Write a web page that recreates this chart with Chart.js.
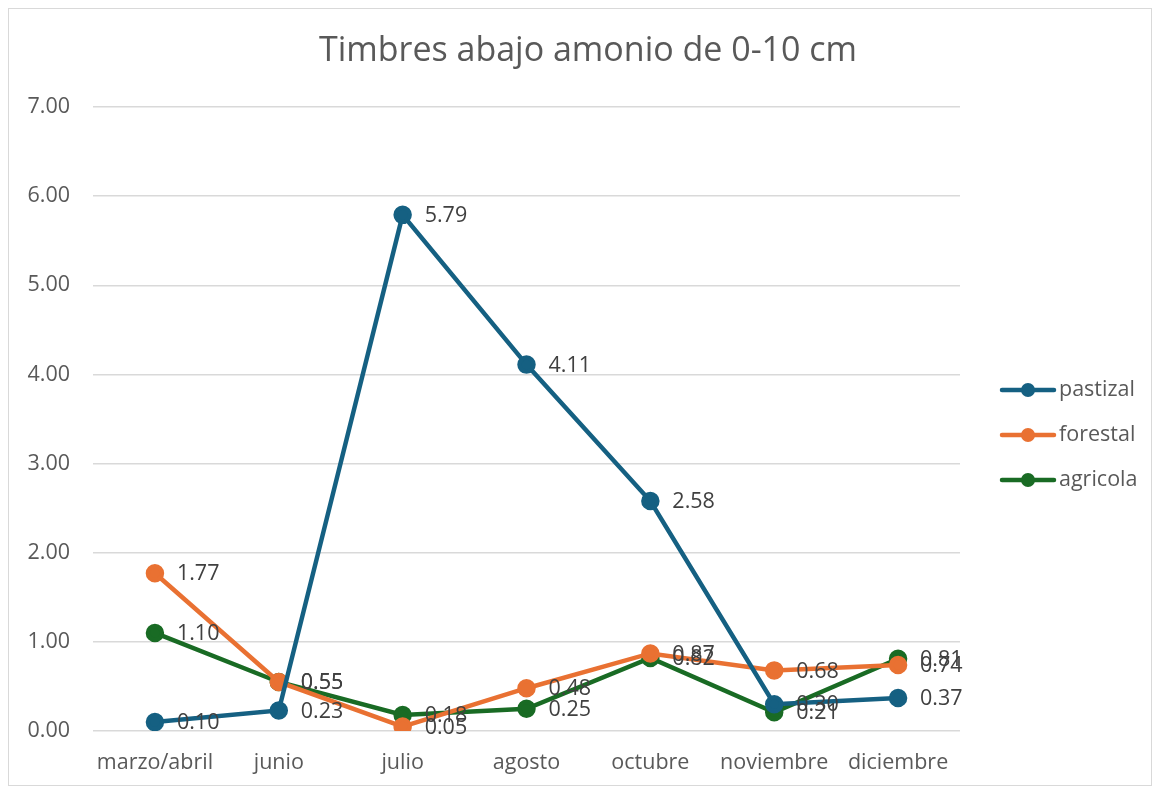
<!DOCTYPE html>
<html>
<head>
<meta charset="utf-8">
<script src="https://cdn.jsdelivr.net/npm/chart.js@4"></script>
<style>
  html, body { margin: 0; padding: 0; background: #fff; }
  #wrap { width: 1161px; height: 789px; }
</style>
</head>
<body>
<div id="wrap"><canvas id="c" width="1161" height="789"></canvas></div>
<script>
const months = ['marzo/abril', 'junio', 'julio', 'agosto', 'octubre', 'noviembre', 'diciembre'];
const pastizal = [0.10, 0.23, 5.79, 4.11, 2.58, 0.30, 0.37];
const forestal = [1.77, 0.55, 0.05, 0.48, 0.87, 0.68, 0.74];
const agricola = [1.10, 0.55, 0.18, 0.25, 0.82, 0.21, 0.81];
const seriesNames = ['pastizal', 'forestal', 'agricola'];
const seriesColors = ['#156082', '#E97132', '#196B24'];

const FONT = '"Open Sans", "Noto Sans", sans-serif';

const mkSet = (i, data) => ({
  label: seriesNames[i], data,
  borderColor: seriesColors[i], backgroundColor: seriesColors[i],
  borderWidth: 4.5, pointRadius: 7, pointHoverRadius: 7, tension: 0,
});

// value labels right of each point + frame + title + legend
const decor = {
  id: 'decor',
  beforeDraw(chart) {
    const ctx = chart.ctx;
    ctx.save();
    ctx.strokeStyle = '#d9d9d9';
    ctx.lineWidth = 1;
    ctx.strokeRect(8.5, 8.5, 1143, 777);
    ctx.restore();
  },
  afterDatasetsDraw(chart) {
    const ctx = chart.ctx;
    ctx.save();
    ctx.font = '21.5px ' + FONT;
    ctx.fillStyle = '#404040';
    ctx.textAlign = 'left';
    ctx.textBaseline = 'middle';
    chart.data.datasets.forEach((ds, i) => {
      chart.getDatasetMeta(i).data.forEach((pt, j) => {
        ctx.fillText(ds.data[j].toFixed(2), pt.x + 22, pt.y + 1);
      });
    });
    // title
    ctx.font = '34px ' + FONT;
    ctx.fillStyle = '#595959';
    ctx.textAlign = 'center';
    ctx.fillText('Timbres abajo amonio de 0-10 cm', 588, 51);
    // legend
    ctx.font = '21.5px ' + FONT;
    ctx.textAlign = 'left';
    seriesNames.forEach((n, i) => {
      const y = 390 + i * 45;
      ctx.strokeStyle = seriesColors[i];
      ctx.fillStyle = seriesColors[i];
      ctx.lineWidth = 4.5;
      ctx.lineCap = 'round';
      ctx.beginPath(); ctx.moveTo(1002, y); ctx.lineTo(1054, y); ctx.stroke();
      ctx.beginPath(); ctx.arc(1028, y, 7, 0, Math.PI * 2); ctx.fill();
      ctx.fillStyle = '#595959';
      ctx.fillText(n, 1059, y);
    });
    ctx.restore();
  }
};

new Chart(document.getElementById('c'), {
  type: 'line',
  data: {
    labels: months,
    datasets: [mkSet(0, pastizal), mkSet(1, forestal), mkSet(2, agricola)],
  },
  options: {
    responsive: false, animation: false,
    layout: { padding: { top: 107, left: 8, right: 201, bottom: 8 } },
    plugins: { legend: { display: false }, title: { display: false }, tooltip: { enabled: false } },
    scales: {
      x: {
        offset: true,
        afterFit: s => { s.height = 50; },
        grid: { display: false },
        border: { display: false },
        ticks: { color: '#595959', font: { size: 21.5, family: FONT }, padding: 11, maxRotation: 0 },
      },
      y: {
        min: 0, max: 7,
        afterFit: s => { s.width = 85; },
        grid: { color: '#d9d9d9', lineWidth: 1.5, drawTicks: false },
        border: { display: false },
        ticks: { stepSize: 1, color: '#595959', font: { size: 21.5, family: FONT }, padding: 23,
                 callback: v => v.toFixed(2) },
      },
    },
  },
  plugins: [decor],
});
</script>
</body>
</html>
